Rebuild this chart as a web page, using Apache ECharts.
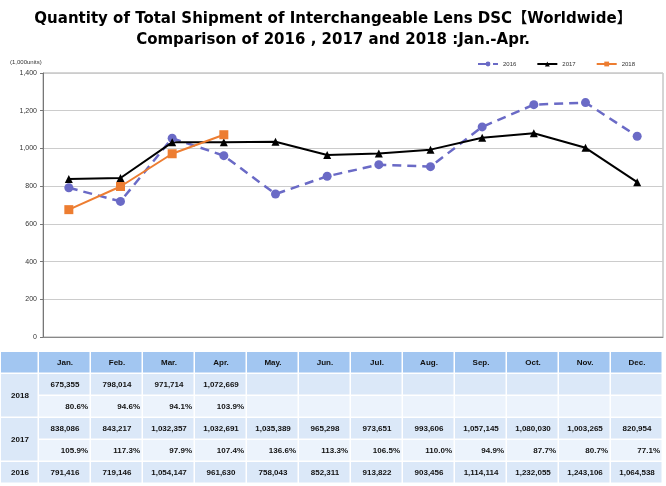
<!DOCTYPE html>
<html>
<head>
<meta charset="utf-8">
<script src="https://cdn.jsdelivr.net/npm/echarts@6/dist/echarts.min.js"></script>
<style>html,body{margin:0;padding:0;background:#fff;}#c{width:666px;height:486px;}</style>
</head>
<body>
<div id="c"></div>
<script>
var months = ['Jan.','Feb.','Mar.','Apr.','May.','Jun.','Jul.','Aug.','Sep.','Oct.','Nov.','Dec.'];
var years = ['2016','2017','2018'];
var s2018 = [675355, 798014, 971714, 1072669];
var s2017 = [838086, 843217, 1032357, 1032691, 1035389, 965298, 973651, 993606, 1057145, 1080030, 1003265, 820954];
var s2016 = [791416, 719146, 1054147, 961630, 758043, 852311, 913822, 903456, 1114114, 1232055, 1243106, 1064538];
var pct2018 = ['80.6%','94.6%','94.1%','103.9%'];
var pct2017 = ['105.9%','117.3%','97.9%','107.4%','136.6%','113.3%','106.5%','110.0%','94.9%','87.7%','80.7%','77.1%'];
var titles = ['Quantity of Total Shipment of Interchangeable Lens DSC【Worldwide】', 'Comparison of 2016 , 2017 and 2018 :Jan.-Apr.'];

function fmt(n){ return n.toLocaleString('en-US'); }
function k(arr){ return arr.map(function(v){ return v/1000; }); }

// table layout
var T = { x0: 1, c0w: 38, cw: 52, y0: 352, hh: 22, rh: 22 };
var colHead = '#a2c6f1', colVal = '#dbe8f8', colPct = '#ecf3fc';
var fontT = 'Liberation Sans, Arial, sans-serif';
var g = [];
function cell(x,y,w,h,fill){
  g.push({type:'rect', shape:{x:x,y:y,width:w-1.5,height:h-1.5}, style:{fill:fill}, silent:true});
}
function txt(x,y,s,align){
  g.push({type:'text', x:x, y:y, style:{text:s, fill:'#111', font:'bold 8px '+fontT, align:align, verticalAlign:'middle'}, silent:true});
}
function colX(i){ return T.x0 + T.c0w + i*T.cw; }
cell(T.x0, T.y0, T.c0w, T.hh, colHead);
months.forEach(function(m,i){ cell(colX(i), T.y0, T.cw, T.hh, colHead); txt(colX(i)+T.cw/2, T.y0+T.hh/2, m, 'center'); });
var rows = [
  {vals: s2018.map(fmt), type:'val'},
  {vals: pct2018, type:'pct'},
  {vals: s2017.map(fmt), type:'val'},
  {vals: pct2017, type:'pct'},
  {vals: s2016.map(fmt), type:'val'}
];
rows.forEach(function(r,ri){
  var y = T.y0 + T.hh + ri*T.rh;
  months.forEach(function(m,i){
    cell(colX(i), y, T.cw, T.rh, r.type==='val'?colVal:colPct);
    var v = r.vals[i];
    if (v !== undefined) {
      if (r.type==='val') txt(colX(i)+T.cw/2, y+T.rh/2, v, 'center');
      else txt(colX(i)+T.cw-3, y+T.rh/2, v, 'right');
    }
  });
});
var yl = [{lab:years[2], r0:0, n:2},{lab:years[1], r0:2, n:2},{lab:years[0], r0:4, n:1}];
yl.forEach(function(o){
  var y = T.y0 + T.hh + o.r0*T.rh;
  cell(T.x0, y, T.c0w, o.n*T.rh, colVal);
  txt(T.x0 + T.c0w/2, y + o.n*T.rh/2, o.lab, 'center');
});
g.push({type:'text', x:10, y:62, style:{text:'(1,000units)', fill:'#333', font:'6px '+fontT, verticalAlign:'middle'}, silent:true});

var titleFont = {fontFamily:'DejaVu Sans, Noto Sans CJK JP, sans-serif', fontWeight:'bold', fontSize:15, color:'#000'};
var chart = echarts.init(document.getElementById('c'), null, {renderer:'canvas'});
chart.setOption({
  animation:false,
  backgroundColor:'#fff',
  title:[
    {text:titles[0], left:'center', top:7, textStyle:titleFont},
    {text:titles[1], left:'center', top:28, textStyle:titleFont}
  ],
  legend:{
    data:years, left:472, top:56, itemWidth:20, itemHeight:6, itemGap:20,
    textStyle:{fontSize:6, color:'#333', fontFamily:fontT}
  },
  grid:{left:43, right:3, top:73, bottom:149, show:true, borderColor:'#aaa', borderWidth:1},
  xAxis:{type:'category', data:months, boundaryGap:true,
    axisLabel:{show:false}, axisTick:{show:false}, axisLine:{lineStyle:{color:'#888'}}},
  yAxis:{type:'value', min:0, max:1400, interval:200,
    axisLabel:{fontSize:7, color:'#333', margin:6, fontFamily:fontT, formatter:function(v){return fmt(v);}},
    axisLine:{show:true, lineStyle:{color:'#777'}},
    axisTick:{show:true, length:3, lineStyle:{color:'#777'}},
    splitLine:{lineStyle:{color:'#ccc'}}},
  series:[
    {name:'2016', type:'line', data:k(s2016), symbol:'circle', symbolSize:9,
     itemStyle:{color:'#6a6ac6'}, lineStyle:{color:'#6a6ac6', width:2.5, type:[9,6]}},
    {name:'2017', type:'line', data:k(s2017), symbol:'triangle', symbolSize:8,
     itemStyle:{color:'#000'}, lineStyle:{color:'#000', width:2}},
    {name:'2018', type:'line', data:k(s2018), symbol:'rect', symbolSize:9,
     itemStyle:{color:'#ed7d31'}, lineStyle:{color:'#ed7d31', width:2}}
  ],
  graphic:g
});
</script>
</body>
</html>
